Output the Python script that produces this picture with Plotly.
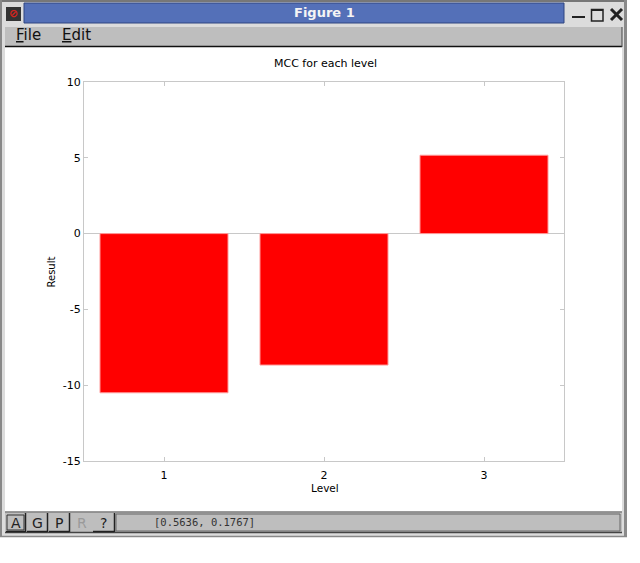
import plotly.graph_objects as go

# values
levels = [1, 2, 3]
results = [-10.5, -8.67, 5.17]
y_ticks = [-15, -10, -5, 0, 5, 10]
y_tick_text = ["-15", "-10", "-5", "0", "5", "10"]

W = 640
H = 563
grey_line = "#c8c8c8"

# page pixels -> paper coords, margins are zero so this is simple
def px(x):
    return x / W

def py(y):
    return 1 - y / H

def box(x0, y0, x1, y1, fill, line=None, width=0, layer="below"):
    return dict(type="rect", xref="paper", yref="paper",
                x0=px(x0), x1=px(x1), y0=py(y0), y1=py(y1),
                fillcolor=fill, layer=layer,
                line=dict(color=line or fill, width=width))

def seg(x0, y0, x1, y1, color, width=1):
    return dict(type="line", xref="paper", yref="paper", layer="below",
                x0=px(x0), x1=px(x1), y0=py(y0), y1=py(y1),
                line=dict(color=color, width=width))

def label(x, y, text, size=10, color="#111111", family="DejaVu Sans", anchor="center"):
    return dict(xref="paper", yref="paper", x=px(x), y=py(y), text=text, showarrow=False,
                xanchor=anchor, yanchor="middle",
                font=dict(size=size, color=color, family=family))

# window chrome
shapes = [
    box(0, 0, 627, 537, "#dcdcdc"),
    seg(0, 1, 627, 1, "#777777", 2),
    seg(1, 0, 1, 537, "#888888", 2),
    seg(625.5, 0, 625.5, 537, "#8a8a8a", 3),
    seg(0, 536.5, 627, 536.5, "#888888", 1.5),
    box(24, 3, 564, 23, "#5470b8", "#2f4580", 1),
    box(6, 7, 21, 21, "#333333"),
    box(5, 47, 622, 512, "#ffffff"),
    box(5, 27, 622, 46, "#bebebe"),
    seg(5, 46.5, 622, 46.5, "#111111", 1.5),
    seg(622, 27, 622, 47, "#444444", 1),
    seg(5, 512, 622, 512, "#777777", 1.5),
    box(5, 513, 622, 532, "#bebebe"),
    seg(5, 532.5, 622, 532.5, "#444444", 1.5),
    # minimise, maximise, close
    seg(572, 17, 585, 17, "#222222", 2),
    box(591.5, 9.5, 603, 21, "#dcdcdc", "#222222", 1.5),
    seg(591, 10, 603, 10, "#222222", 2),
    seg(611, 9, 622, 20, "#222222", 3),
    seg(622, 9, 611, 20, "#222222", 3),
]

# toolbar buttons at the bottom
buttons = [("A", 6, 25, "#222222"), ("G", 27, 47, "#222222"), ("P", 49, 69, "#222222"),
           ("R", 72, 91, "#9a9a9a"), ("?", 93, 114, "#222222")]
annotations = []
for name, x0, x1, col in buttons:
    shapes.append(box(x0, 514, x1, 531, "#bebebe"))
    if col != "#9a9a9a":
        shapes.append(seg(x1 + 0.5, 513, x1 + 0.5, 532, "#222222", 1.5))
        shapes.append(seg(x0, 531.5, x1, 531.5, "#222222", 1.5))
    annotations.append(label((x0 + x1) / 2, 523, name, size=14, color=col))
shapes.append(box(7, 515, 24, 530, "rgba(0,0,0,0)", "#333333", 1))
shapes.append(box(116, 514, 620, 531, "#bebebe", "#666666", 1))

annotations += [
    label(324, 13, "<b>Figure 1</b>", size=13, color="#f4f4f4"),
    label(14, 35.5, "<u>F</u>ile", size=15, anchor="left"),
    label(60, 35.5, "<u>E</u>dit", size=15, anchor="left"),
    label(152, 522, "[0.5636, 0.1767]", size=10.5, color="#333333",
          family="DejaVu Sans Mono", anchor="left"),
    label(13.5, 14, "<b>⊘</b>", size=11, color="#d8241c"),
    label(325, 63.5, "MCC for each level", size=11, color="#000000"),
    label(324.5, 488, "Level", size=10.5, color="#000000"),
]

fig = go.Figure(go.Bar(x=levels, y=results, width=0.8,
                       marker=dict(color="#ff0000", line=dict(color="#ff9a9a", width=1))))

fig.update_layout(
    width=W, height=H,
    margin=dict(l=0, r=0, t=0, b=0, pad=0, autoexpand=False),
    paper_bgcolor="white",
    plot_bgcolor="rgba(0,0,0,0)",
    showlegend=False,
    shapes=shapes,
    annotations=annotations + [
        dict(xref="paper", yref="paper", x=px(50.5), y=py(272), text="Result", textangle=-90,
             showarrow=False, xanchor="center", yanchor="middle",
             font=dict(size=10, color="#000000", family="DejaVu Sans")),
    ],
    font=dict(family="DejaVu Sans", size=11, color="#000000"),
)
fig.update_xaxes(domain=[px(84), px(564)], range=[0.5, 3.5], tickvals=levels,
                 ticks="inside", ticklen=4, tickcolor=grey_line, showline=True,
                 linecolor=grey_line, linewidth=1, mirror="ticks", showgrid=False,
                 zeroline=False, ticklabelstandoff=4)
fig.update_yaxes(domain=[py(461), py(82)], range=[-15, 10], tickvals=y_ticks,
                 ticktext=y_tick_text,
                 ticks="inside", ticklen=4, tickcolor=grey_line, showline=True,
                 linecolor=grey_line, linewidth=1, mirror="ticks", showgrid=False,
                 zeroline=True, zerolinecolor=grey_line, zerolinewidth=1)

fig.write_html("out.html", config={"displayModeBar": False},
               post_script="document.body.style.margin='0';")
